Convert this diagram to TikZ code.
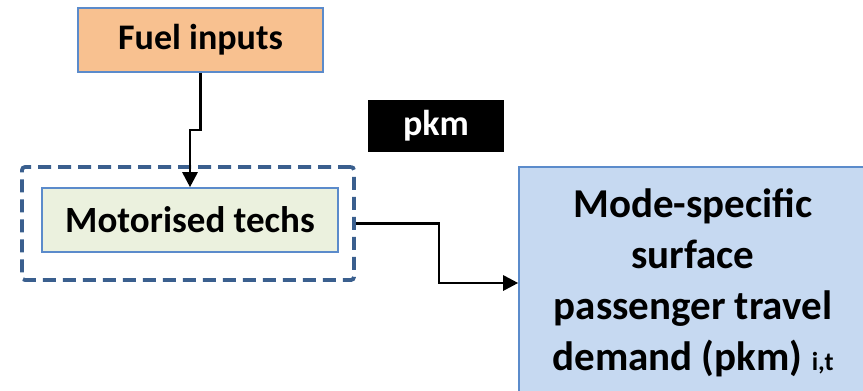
\documentclass[tikz,border=0pt]{standalone}
\usepackage{fontspec}
\setmainfont{Carlito}
\usetikzlibrary{arrows.meta}
\definecolor{fuelfill}{HTML}{F8C190}
\definecolor{motorfill}{HTML}{EBF1DE}
\definecolor{bigfill}{HTML}{C6D9F1}
\definecolor{boxline}{HTML}{5B8BCB}
\definecolor{dashline}{HTML}{3A5F8E}
\tikzset{
  box/.style={draw=boxline, line width=1.6pt, inner sep=0pt, align=center,
    font=\fontsize{36}{43}\selectfont\bfseries},
  conn/.style={draw=black, line width=2.8pt,
    -{Triangle[length=15pt,width=15pt]}},
}
\begin{document}
\begin{tikzpicture}[x=1pt,y=-1pt]
\useasboundingbox (0,0) rectangle (863,391);
\clip (0,0) rectangle (863,391);
\node[box, fill=fuelfill, minimum width=245pt, minimum height=64pt] (fuel) at (200.5,40) {Fuel inputs};
\node[draw=dashline, line width=3.8pt, dash pattern=on 13pt off 7pt, rounded corners=3pt,
  minimum width=332pt, minimum height=113pt] (group) at (188,223.5) {};
\node[box, fill=motorfill, minimum width=296pt, minimum height=64pt,
  font=\fontsize{37}{44}\selectfont\bfseries] (motor) at (190,220) {Motorised techs};
\node[fill=black, text=white, inner sep=0pt, minimum width=136pt, minimum height=52pt,
  font=\fontsize{36}{43}\selectfont\bfseries] (pkm) at (436,126) {pkm};
\node[box, fill=bigfill, minimum width=348pt, minimum height=232pt,
  font=\fontsize{41}{51}\selectfont\bfseries] (big) at (693,283)
  {Mode-specific\\surface\\passenger travel\\demand (pkm) {\fontsize{26}{26}\selectfont i,t}};
\draw[conn] (fuel.south) -- (fuel.south |- 0,130) -| (motor.north);
\draw[conn] (group.east) -- ++(83,0) |- (big.west);
\end{tikzpicture}
\end{document}
